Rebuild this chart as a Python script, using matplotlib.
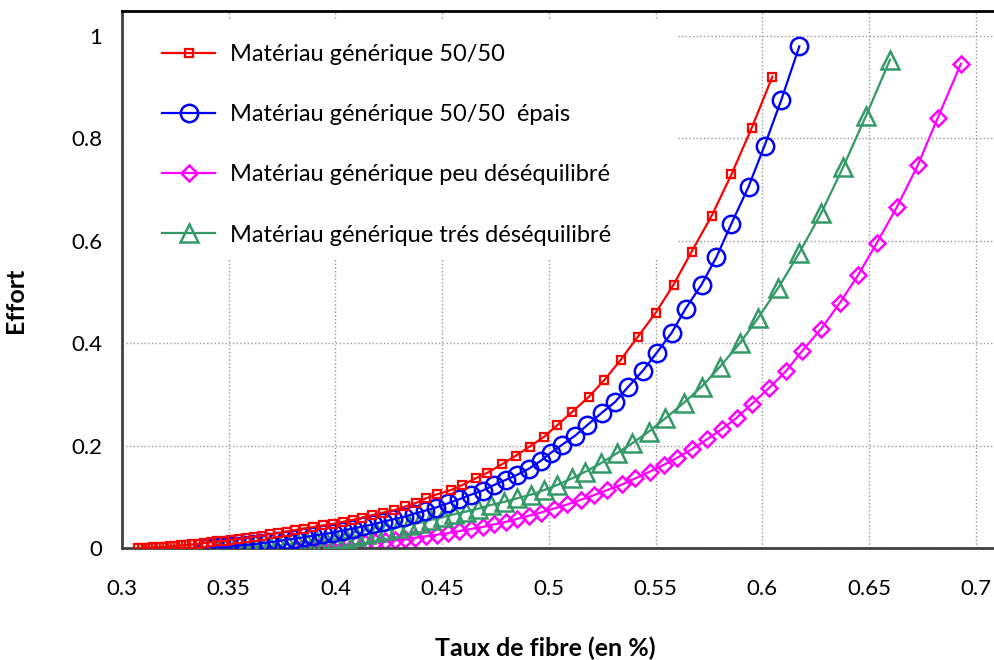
import matplotlib
matplotlib.use("Agg")
import matplotlib.pyplot as plt
from matplotlib.patches import Rectangle

plt.rcParams['font.family'] = ['Lato', 'DejaVu Sans']

# ---------------- data ------------------------------------------------
x_5050 = [0.3076, 0.3094, 0.3120, 0.3146, 0.3172, 0.3198, 0.3224, 0.3250, 0.3276, 0.3302,
          0.3329, 0.3357, 0.3386, 0.3416, 0.3447, 0.3479, 0.3512, 0.3546, 0.3581, 0.3617,
          0.3654, 0.3692, 0.3731, 0.3771, 0.3812, 0.3854, 0.3897, 0.3941, 0.3988, 0.4034,
          0.4081, 0.4124, 0.4171, 0.4221, 0.4276, 0.4327, 0.4377, 0.4424, 0.4478, 0.4540,
          0.4595, 0.4657, 0.4712, 0.4782, 0.4845, 0.4910, 0.4977, 0.5040, 0.5110, 0.5187,
          0.5260, 0.5336, 0.5416, 0.5500, 0.5584, 0.5668, 0.5762, 0.5855, 0.5950, 0.6047]
y_5050 = [0.000, 0.000, 0.0005, 0.001, 0.0015, 0.002, 0.003, 0.004, 0.005, 0.006,
          0.007, 0.008, 0.010, 0.011, 0.013, 0.014, 0.016, 0.018, 0.020, 0.022,
          0.024, 0.027, 0.029, 0.032, 0.035, 0.038, 0.041, 0.044, 0.047, 0.051,
          0.055, 0.059, 0.064, 0.069, 0.074, 0.081, 0.088, 0.097, 0.105, 0.113,
          0.123, 0.136, 0.147, 0.164, 0.180, 0.198, 0.217, 0.240, 0.266, 0.295,
          0.328, 0.367, 0.412, 0.459, 0.514, 0.578, 0.648, 0.729, 0.820, 0.920]

x_epais = [0.3395, 0.3434, 0.3467, 0.3501, 0.3536, 0.3572, 0.3609, 0.3647, 0.3686, 0.3726,
           0.3767, 0.3809, 0.3852, 0.3896, 0.3941, 0.3988, 0.4034, 0.4081, 0.4128, 0.4175,
           0.4221, 0.4271, 0.4322, 0.4369, 0.4421, 0.4471, 0.4525, 0.4579, 0.4634, 0.4689,
           0.4743, 0.4798, 0.4852, 0.4907, 0.4961, 0.5010, 0.5060, 0.5122, 0.5180, 0.5248,
           0.5310, 0.5370, 0.5440, 0.5505, 0.5575, 0.5640, 0.5715, 0.5785, 0.5855, 0.5935,
           0.6010, 0.6089, 0.6173]
y_epais = [0.000, 0.001, 0.002, 0.003, 0.004, 0.006, 0.007, 0.009, 0.011, 0.013,
           0.016, 0.018, 0.021, 0.024, 0.027, 0.030, 0.034, 0.038, 0.042, 0.046,
           0.051, 0.056, 0.061, 0.067, 0.073, 0.079, 0.087, 0.095, 0.104, 0.112,
           0.123, 0.133, 0.143, 0.155, 0.170, 0.186, 0.201, 0.219, 0.240, 0.264,
           0.285, 0.314, 0.346, 0.381, 0.420, 0.467, 0.514, 0.568, 0.633, 0.705,
           0.785, 0.875, 0.979]

x_peu = [0.3815, 0.3852, 0.3890, 0.3929, 0.3969, 0.4010, 0.4052, 0.4095, 0.4139, 0.4184,
         0.4230, 0.4277, 0.4325, 0.4374, 0.4424, 0.4475, 0.4527, 0.4580, 0.4634, 0.4689,
         0.4743, 0.4798, 0.4852, 0.4906, 0.4961, 0.5023, 0.5086, 0.5148, 0.5210, 0.5273,
         0.5343, 0.5405, 0.5472, 0.5537, 0.5600, 0.5670, 0.5740, 0.5810, 0.5879, 0.5953,
         0.6033, 0.6112, 0.6187, 0.6276, 0.6364, 0.6449, 0.6537, 0.6631, 0.6729, 0.6822,
         0.6930]
y_peu = [0.000, 0.001, 0.002, 0.003, 0.004, 0.005, 0.006, 0.007, 0.009, 0.011,
         0.013, 0.015, 0.017, 0.020, 0.023, 0.026, 0.029, 0.033, 0.037, 0.041,
         0.046, 0.051, 0.057, 0.063, 0.069, 0.077, 0.085, 0.094, 0.103, 0.113,
         0.124, 0.136, 0.149, 0.162, 0.176, 0.193, 0.212, 0.232, 0.254, 0.282,
         0.313, 0.346, 0.385, 0.428, 0.479, 0.533, 0.596, 0.666, 0.748, 0.840,
         0.945]

x_tres = [0.3455, 0.3485, 0.3525, 0.3567, 0.3609, 0.3651, 0.3694, 0.3737, 0.3780, 0.3824,
          0.3868, 0.3912, 0.3957, 0.4003, 0.4050, 0.4097, 0.4143, 0.4190, 0.4237, 0.4291,
          0.4343, 0.4393, 0.4447, 0.4502, 0.4556, 0.4611, 0.4670, 0.4728, 0.4790, 0.4852,
          0.4914, 0.4977, 0.5039, 0.5109, 0.5171, 0.5242, 0.5319, 0.5389, 0.5467, 0.5545,
          0.5631, 0.5716, 0.5802, 0.5897, 0.5980, 0.6075, 0.6173, 0.6276, 0.6379, 0.6486,
          0.6598]
y_tres = [0.000, 0.000, 0.0005, 0.001, 0.002, 0.003, 0.004, 0.005, 0.007, 0.008,
          0.010, 0.012, 0.014, 0.017, 0.020, 0.023, 0.027, 0.031, 0.035, 0.040,
          0.045, 0.049, 0.055, 0.060, 0.066, 0.071, 0.077, 0.084, 0.090, 0.097,
          0.104, 0.113, 0.123, 0.136, 0.149, 0.165, 0.185, 0.204, 0.227, 0.253,
          0.283, 0.315, 0.354, 0.401, 0.449, 0.508, 0.576, 0.654, 0.744, 0.844,
          0.953]

labels = ['Matériau générique 50/50',
          'Matériau générique 50/50  épais',
          'Matériau générique peu déséquilibré',
          'Matériau générique trés déséquilibré']
x_ticks = [0.3, 0.35, 0.4, 0.45, 0.5, 0.55, 0.6, 0.65, 0.7]
y_ticks = [0, 0.2, 0.4, 0.6, 0.8, 1]

# ---------------- plot --------------------------
fig = plt.figure(figsize=(9.94, 6.6), dpi=100)
ax = fig.add_axes([0.1227, 0.1697, 0.8773, 0.8136])

ax.plot(x_5050, y_5050, color='#FF0000', lw=1.6, marker='s', ms=5.5, mfc='none', mew=1.6, label=labels[0], zorder=5)
ax.plot(x_epais, y_epais, color='#0000FF', lw=1.6, marker='o', ms=12.5, mfc='none', mew=1.8, label=labels[1], zorder=4)
ax.plot(x_peu, y_peu, color='#FF00FF', lw=1.6, marker='D', ms=8, mfc='none', mew=1.8, label=labels[2], zorder=2)
ax.plot(x_tres, y_tres, color='#339966', lw=1.6, marker='^', ms=12.5, mfc='none', mew=1.8, label=labels[3], zorder=3)

ax.set_xlim(0.3, 0.7085)
ax.set_ylim(0, 1.048)
ax.set_xticks(x_ticks)
ax.set_xticklabels([str(t) for t in x_ticks])
ax.set_yticks(y_ticks)
ax.set_yticklabels([str(t) for t in y_ticks])
ax.tick_params(length=0, labelsize=16)
ax.tick_params(axis='x', pad=22)
ax.tick_params(axis='y', pad=14)
ax.grid(True, color='#999999', ls=':', lw=1)
ax.set_axisbelow(True)

for s in ['left', 'bottom']:
    ax.spines[s].set_color('#404040')
    ax.spines[s].set_linewidth(2)
ax.spines['top'].set_color('black')
ax.spines['top'].set_linewidth(2)
ax.spines['right'].set_visible(False)

# white area behind legend
ax.add_patch(Rectangle((0.003, 0.540), 0.632, 0.443, transform=ax.transAxes,
                       facecolor='white', edgecolor='none', zorder=1))
leg = ax.legend(loc='upper left', bbox_to_anchor=(0.046, 0.9386), frameon=False,
                borderpad=0, borderaxespad=0, handlelength=2.25, handletextpad=0.64,
                labelspacing=1.66, fontsize=17)

fig.text(0.549, 0.018, 'Taux de fibre (en %)', ha='center', va='center', fontsize=18, fontweight='bold')
fig.text(0.016, 0.545, 'Effort', ha='center', va='center', rotation=90, fontsize=18, fontweight='bold')

plt.savefig('out.png', dpi=100)
